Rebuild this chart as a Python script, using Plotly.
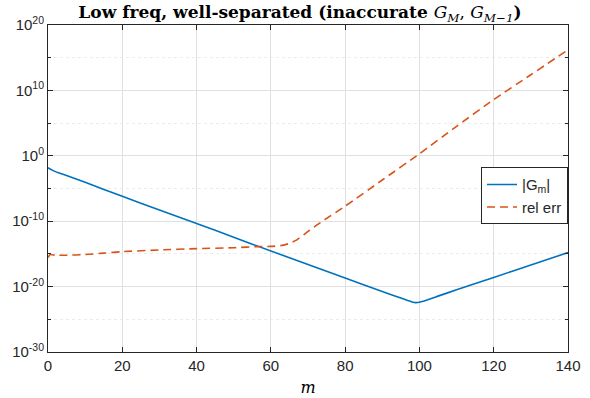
import plotly.graph_objects as go

# ---- data ----
m_G = [0, 1, 2, 3, 5, 10, 20, 30, 40, 50, 60, 70, 80, 90, 95, 97, 98, 99, 100, 101, 103, 105, 110, 120, 130, 140]
G_abs = [1.5e-2, 7.1e-3, 3.8e-3, 2.4e-3, 1.0e-3, 8.9e-5, 6.3e-7, 5.0e-9, 4.5e-11, 3.5e-13, 2.8e-15,
         2.5e-17, 2.0e-19, 1.8e-21, 1.8e-22, 7.1e-23, 4.5e-23, 3.5e-23, 4.0e-23, 5.6e-23, 1.4e-22,
         3.5e-22, 3.2e-21, 2.5e-19, 2.0e-17, 1.6e-15]

m_err = [0, 0.6, 2, 5, 10, 15, 20, 30, 40, 50, 57, 60, 63, 65, 67, 69, 71, 74, 80, 90, 100, 110, 120, 130, 140]
rel_err = [2.8e-16, 7.9e-16, 6.3e-16, 6.3e-16, 7.9e-16, 1.3e-15, 2.2e-15, 4.0e-15, 6.3e-15, 8.9e-15,
           1.3e-14, 1.4e-14, 2.0e-14, 4.0e-14, 1.4e-13, 1.0e-12, 7.1e-12, 1.1e-10, 2.0e-8, 2.0e-4,
           2.0, 3.2e4, 4.0e8, 2.5e12, 1.6e16]

x_ticks = [0, 20, 40, 60, 80, 100, 120, 140]
y_ticks = [1e-30, 1e-20, 1e-10, 1e0, 1e10, 1e20]
y_ticktext = ["10<sup>-30</sup>", "10<sup>-20</sup>", "10<sup>-10</sup>", "10<sup>0</sup>",
              "10<sup>10</sup>", "10<sup>20</sup>"]
y_minor = [1e-25, 1e-15, 1e-5, 1e5, 1e15]

BLUE = "#0072BD"
ORANGE = "#D95319"
AX = "#262626"

fig = go.Figure()
fig.add_trace(go.Scatter(x=m_G, y=G_abs, mode="lines", name="|G<sub>m</sub>|",
                         line=dict(color=BLUE, width=1.6, shape="spline", smoothing=0.5)))
fig.add_trace(go.Scatter(x=m_err, y=rel_err, mode="lines", name="rel err",
                         line=dict(color=ORANGE, width=1.6, dash="8px,5px", shape="spline", smoothing=0.5)))

fig.update_layout(
    width=590, height=398,
    margin=dict(l=48, r=22, t=25, b=46, autoexpand=False),
    paper_bgcolor="white", plot_bgcolor="white",
    font=dict(family="Liberation Sans, Arial, sans-serif", size=15, color=AX),
    title=dict(
        text="<b>Low freq, well-separated (inaccurate </b><i>G<sub>M</sub></i>, <i>G<sub>M−1</sub></i><b>)</b>",
        x=300 / 590, xanchor="center", y=1 - 12 / 398, yanchor="middle",
        font=dict(family="DejaVu Serif, serif", size=17, color="#000000"),
    ),
    showlegend=True,
    legend=dict(
        x=1.0, xanchor="right", y=0.565, yanchor="top",
        bgcolor="white", bordercolor=AX, borderwidth=1,
        font=dict(family="Liberation Sans, Arial, sans-serif", size=15, color=AX),
        tracegroupgap=0, itemwidth=30,
    ),
)

fig.update_xaxes(
    range=[0, 140], tickvals=x_ticks, ticks="inside", ticklen=5, tickcolor=AX,
    showline=True, linecolor=AX, linewidth=1, mirror="ticks", automargin=False,
    showgrid=True, gridcolor="#e0e0e0", gridwidth=1, zeroline=False,
    title=dict(text="<i>m</i>", font=dict(family="DejaVu Serif, serif", size=16, color="#000000"),
               standoff=8),
)
fig.update_yaxes(
    type="log", range=[-30, 20], tickvals=y_ticks, ticktext=y_ticktext,
    ticks="inside", ticklen=5, tickcolor=AX, automargin=False,
    showline=True, linecolor=AX, linewidth=1, mirror="ticks",
    showgrid=True, gridcolor="#e0e0e0", gridwidth=1, zeroline=False,
    minor=dict(tickvals=y_minor, ticks="inside", ticklen=3, tickcolor=AX,
               showgrid=True, gridcolor="#ececec", griddash="dot"),
)

fig.write_html("out.html")
